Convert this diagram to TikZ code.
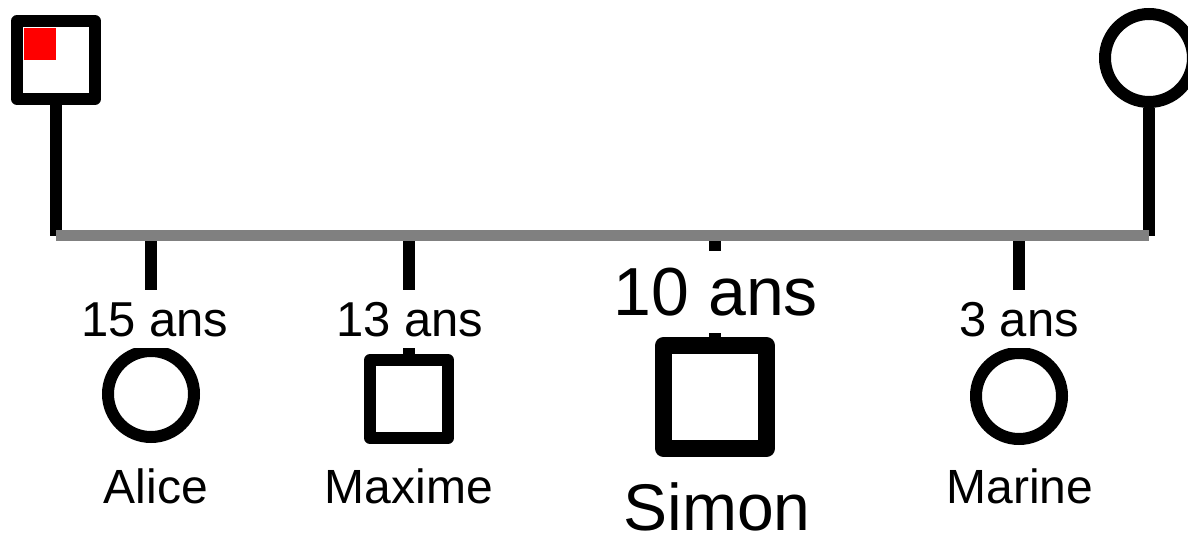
\documentclass[tikz,border=0pt]{standalone}
\usepackage{fontspec}
\setmainfont{Liberation Sans}
\begin{document}
\begin{tikzpicture}[x=1pt,y=-1pt,
    homme/.style = {draw, rectangle, line width=12pt, line join=round, minimum size=78pt, inner sep=0pt},
    femme/.style = {draw, circle, line width=12pt, minimum size=86pt, inner sep=0pt},
    age/.style = {fill=white, anchor=base, inner xsep=2pt, inner ysep=12pt, font=\fontsize{49}{58}\selectfont},
    nom/.style = {anchor=base, inner sep=0pt, font=\fontsize{48}{58}\selectfont},
    trait/.style = {line width=12pt}]
    \useasboundingbox (0,0) rectangle (1188,545);
    % parents
    \node[homme] (pere) at (56,60) {};
    \fill[red] ([xshift=13pt,yshift=-13pt]pere.north west) rectangle (pere.center);
    \node[femme, minimum size=88pt] (mere) at (1149,58) {};
    \coordinate (lp) at (56,236);
    \coordinate (lm) at (1149,236);
    \draw[trait] (pere.south) -- (lp);
    \draw[trait] (mere.south) -- (lm);
    % enfants
    \node[femme] (alice) at (151,394) {};
    \node[homme] (maxime) at (409,399) {};
    \node[homme, line width=17pt, minimum size=103pt] (simon) at (715,397) {};
    \node[femme] (marine) at (1019,396) {};
    \draw[trait] (151,241) -- (alice.north);
    \draw[trait] (409,241) -- (maxime.north);
    \draw[trait] (715,241) -- (simon.north);
    \draw[trait] (1019,241) -- (marine.north);
    \draw[line width=11pt, gray] (lp) -- (lm);
    % ages
    \node[age] (a1) at (155,336) {15 ans};
    \node[age] (a2) at (410,336) {13 ans};
    \node[age, inner ysep=17pt, font=\fontsize{68}{80}\selectfont] (a3) at (716,315) {10 ans};
    \node[age] (a4) at (1019,336) {3 ans};
    % prenoms
    \node[nom] (n1) at (156,503) {Alice};
    \node[nom] (n2) at (409,503) {Maxime};
    \node[nom, font=\fontsize{66}{78}\selectfont] (n3) at (717,530) {Simon};
    \node[nom] (n4) at (1020,503) {Marine};
\end{tikzpicture}
\end{document}
